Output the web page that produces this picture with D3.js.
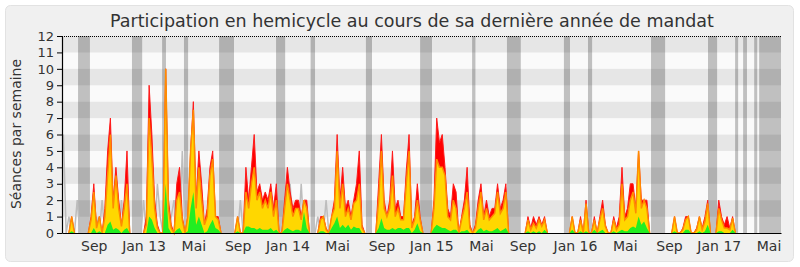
<!DOCTYPE html>
<html>
<head>
<meta charset="utf-8">
<script src="https://cdn.jsdelivr.net/npm/d3@7"></script>
<style>
  body { margin: 0; background: #fff; }
  text { font-family: "DejaVu Sans", Verdana, sans-serif; fill: #333; }
</style>
</head>
<body>
<div id="chart"></div>
<script>
// séances par semaine, une valeur par semaine (260 semaines, juin 2012 -> juin 2017)
const presence = [
  0,0,0,1,0,0,0,0,0,0,
  1,3,0.3,1,0,1.5,5,7,2,4,
  2,0.5,2,5,0,0,0,0,0,0,
  1,9,6,2,0.5,0,0,10,2,0.5,
  0,3,4,1,0,1,5,8,2,5,
  3,0.5,1.5,4,5,1,1,0,0,0,
  0,0,0,1,0,0,4,2,4,6,
  2.5,3,2,2.5,2,3,1.5,3,0,0,
  2,4,2.5,1.5,2,2,1,2,2,0,
  0,0,0,1,1,0.3,0,1,2,6,
  2,4,1.5,2,1,2,3,5,0.5,0,
  0,0,0,0,3,6,2,1,2,5,
  1.5,2,1,1,3.8,6,0.5,1,3,1,
  0,0,0,0,2,7,5.5,6,4,1.5,
  1,3,2.5,0,1,2,4,0.5,0,0.5,
  2,3,1,2,1,1.5,1.5,3,1.5,2,
  3,0,0,0,0,0,0,0,1,0.3,
  1,0.5,1,0.5,1,0,0,0,0,0,
  0,0,0,0,1,0,0,1,0,2,
  0,0,1,0,1,2,0.5,0,0,1,
  0.3,1,4,1,1.5,3,3,1.5,5,2,
  2,2,0,0,0,0,0,0,0,0,
  0,1,0,0,0.3,1,1,0,0,0.3,
  1,0.3,1,2,0,0,0,2,1,0.5,
  1,0.3,1,0,0,0,0,0,0,0,
  0,0,0,0,0,0,0,0,0,0
];
const participation = [
  0,0,0,1,0,0,0,0,0,0,
  0.8,2.5,0.3,1,0,1,3.5,6,1.5,3.5,
  1.5,0.4,1.5,3,0,0,0,0,0,0,
  0.5,7,4.5,1.5,0.3,0,0,10,1.5,0.3,
  0,2,2.5,0.8,0,1,5,7.5,1.5,4,
  2,0.5,1,3.5,4.5,1,0.8,0,0,0,
  0,0,0,1,0,0,2.5,1.5,3,4,
  2,2.5,1.5,2,1.5,2.5,1,2,0,0,
  1.5,3,2,1,1.5,1.5,0.8,2,1.5,0,
  0,0,0,0.8,1,0.2,0,1,1.5,5,
  1.5,3,1,1.5,0.8,1.8,2,3,0.3,0,
  0,0,0,0,2,5,1.5,1,1.5,3.5,
  1,1.5,0.8,0.8,3,5,0.3,0.8,2,0.8,
  0,0,0,0,1.5,4.5,4,4,3.5,1,
  0.8,2,1.5,0,0.8,1.5,2.5,0.3,0,0.3,
  1.5,2.5,0.8,1.5,0.8,1,1.2,2.5,1.2,1.5,
  2.5,0,0,0,0,0,0,0,0.8,0.2,
  0.6,0.3,0.8,0.4,0.8,0,0,0,0,0,
  0,0,0,0,1,0,0,0.8,0,1.8,
  0,0,0.8,0,0.8,1.5,0.4,0,0,0.8,
  0.2,0.5,3,0.8,1,2,2.5,1.2,5,1.5,
  2,1.5,0,0,0,0,0,0,0,0,
  0,1,0,0,0.2,0.8,1,0,0,0.2,
  1,0.2,0.7,1.8,0,0,0,1.5,0.8,0.3,
  0.3,0.2,0.9,0,0,0,0,0,0,0,
  0,0,0,0,0,0,0,0,0,0
];
const questions = [
  0,0,0,0.1,0,0,0,0,0,0,
  0,0.3,0,0.1,0,0,0.5,0.7,0.2,0.3,
  0.2,0,0.2,0.3,0,0,0,0,0,0,
  0,1,0.8,0.3,0,0,0,3,0.3,0,
  0,0.2,0.3,0,0,0.1,1.5,2.5,0.5,1,
  0.5,0,0.1,0.5,0.8,0.3,0.2,0,0,0,
  0,0,0,0.1,0,0,0.4,0.4,0.3,0.3,
  0.2,0.3,0.2,0.2,0.2,0.3,0.1,0.2,0,0,
  0.2,0.3,0.2,0.1,0.2,0.2,0.1,1.3,0.3,0,
  0,0,0,0.1,0.1,0,0,0.3,0.6,1,
  0.3,0.5,0.3,0.5,0.2,0.4,0.3,0.3,0,0,
  0,0,0,0,0.3,0.9,0.3,0.2,0.2,0.3,
  0.2,0.3,0.3,0.2,0.3,0.3,0,0.2,0.6,0.1,
  0,0,0,0,0.3,0.5,0.4,0.3,0.3,0.2,
  0.1,0.2,0.2,0,0.1,0.1,0.2,0,0,0,
  0.2,0.3,0.1,0.2,0.1,0.1,0.2,0.3,0.1,0.2,
  0.3,0,0,0,0,0,0,0,0.1,0,
  0.1,0,0.1,0,0.2,0,0,0,0,0,
  0,0,0,0,0.2,0,0,0.1,0,0.1,
  0,0,0.2,0,0.1,0.2,0,0,0,0.1,
  0,0.1,0.2,0.1,0.1,0.3,0.4,0.3,1,0.5,
  0.7,0.3,0,0,0,0,0,0,0,0,
  0,0.1,0,0,0,0.2,0.2,0,0,0,
  0.1,0,0.1,0.5,0,0,0,0.1,0.1,0,
  0,0,0.2,0,0,0,0,0,0,0,
  0,0,0,0,0,0,0,0,0,0
];
const mediane = [
  6,0,1,0,0,2,0,0,0,0,
  0,0,1,0,2,0,0,0,0,0,
  0,2,0,0,0,0,0,0,0,2,
  0,0,0,0,3,1,0,9,0,1,
  2,0,0,5,0,0,0,0,0,0,
  2,0,0,0,0,0,0,0,0,0,
  0,0,0,0,2,0,0,0,0,0,
  0,0,0,0,0,0,0,0,0,0,
  0,0,3,0,0,0,3,0,0,0,
  0,0,1,0,0,2,0,0,0,0,
  0,0,0,0,0,0,0,0,0,0,
  0,0,0,0,0,0,0,0,0,0,
  0,0,0,0,0,0,0,0,0,0,
  0,0,0,0,0,0,0,0,0,0,
  0,0,0,0,0,0,0,0,0,0,
  0,0,0,0,0,0,0,0,0,0,
  0,0,0,0,0,0,0,0,0,0,
  0,0,0,0,0,0,0,0,0,0,
  0,0,0,0,0,0,0,0,0,0,
  0,0,0,0,0,0,0,0,0,0,
  0,0,0,0,0,0,0,0,0,0,
  0,0,0,0,0,0,0,0,0,0,
  0,0,0,0,0,0,0,0,0,0,
  0,0,0,0,0,0,0,0,0,0,
  0,0,0,0,0,0,0,0,0,0,
  0,0,0,0,0,0,0,0,0,0
];
// vacances parlementaires (début, fin) en semaines
const vacances = [
  [5.3,9.6],[24.8,28.5],[35.7,37.1],[43.6,45.1],[56.3,61.7],
  [76.9,80.2],[89.4,91],[109.4,111.6],[129,133.3],[147.8,149],
  [160.4,165.4],[181,183.2],[189.7,191.2],[212.5,217.6],[233.1,236.4],
  [242.9,244],[245.8,247.2],[249.8,250.9],[251.6,259.5]
];
const moisSemaines = [11,29,47,63,81,99,115,133,151,166,185,203,219,237,255];
const moisLabels = ["Sep","Jan 13","Mai","Sep","Jan 14","Mai","Sep","Jan 15","Mai","Sep","Jan 16","Mai","Sep","Jan 17","Mai"];

const width = 800, height = 267;

const svg = d3.select('#chart').append('svg')
  .attr('width', width)
  .attr('height', height);

// cadre
svg.append('rect')
  .attr('x', 5.5).attr('y', 5.5)
  .attr('width', 788).attr('height', 256)
  .attr('rx', 5)
  .attr('fill', '#f0f0f0')
  .attr('stroke', '#e2e2e2');

const x = d3.scaleLinear().domain([-0.5, presence.length - 0.5]).range([62, 781]);
const y = d3.scaleLinear().domain([0, 12]).range([233, 36]);

// bandes horizontales
const bandes = d3.range(0, 12);
svg.append('g').selectAll('rect')
  .data(bandes)
  .enter()
  .append('rect')
  .attr('x', x(-0.5))
  .attr('width', x(presence.length - 0.5) - x(-0.5))
  .attr('y', d => y(d + 1))
  .attr('height', d => y(d) - y(d + 1))
  .attr('fill', d => d % 2 === 1 ? '#e6e6e6' : '#fafafa');

// vacances
svg.append('g').selectAll('rect')
  .data(vacances)
  .enter()
  .append('rect')
  .attr('x', d => x(d[0]))
  .attr('width', d => x(d[1]) - x(d[0]))
  .attr('y', y(12))
  .attr('height', y(0) - y(12))
  .attr('fill', 'rgba(0,0,0,0.23)');

const area = d3.area()
  .x((d, i) => x(i))
  .y0(y(0))
  .y1(d => y(d));

// ligne du haut seulement là où la série n'est pas nulle (évite un trait sur l'axe)
const topLine = serie => d3.line()
  .defined((d, i) => d > 0 || serie[i - 1] > 0 || serie[i + 1] > 0)
  .x((d, i) => x(i))
  .y(d => y(d));

// médiane
svg.append('path')
  .datum(mediane)
  .attr('d', topLine(mediane))
  .attr('fill', 'none')
  .attr('stroke', '#bdbdbd')
  .attr('stroke-width', 1.5);

svg.append('path')
  .datum(presence)
  .attr('d', area)
  .attr('fill', '#ff0000');
svg.append('path')
  .datum(presence)
  .attr('d', topLine(presence))
  .attr('fill', 'none')
  .attr('stroke', '#ff1a1a')
  .attr('stroke-width', 1);

svg.append('path')
  .datum(participation)
  .attr('d', area)
  .attr('fill', '#ffd700');
svg.append('path')
  .datum(participation)
  .attr('d', topLine(participation))
  .attr('fill', 'none')
  .attr('stroke', '#ff8c00')
  .attr('stroke-width', 1.5);

svg.append('path')
  .datum(questions)
  .attr('d', area)
  .attr('fill', '#22ee22');

// axes
const yAxis = d3.axisLeft(y)
  .tickValues(d3.range(0, 13))
  .tickSize(5)
  .tickSizeOuter(0)
  .tickPadding(3);
const gy = svg.append('g')
  .attr('transform', `translate(${x(-0.5)},0)`)
  .call(yAxis);
gy.selectAll('text').style('font-size', '13px').attr('fill', '#333');

const xAxis = d3.axisBottom(x)
  .tickValues(moisSemaines)
  .tickFormat((d, i) => moisLabels[i])
  .tickSize(0)
  .tickSizeOuter(0)
  .tickPadding(8);
const gx = svg.append('g')
  .attr('transform', `translate(0,${y(0)})`)
  .call(xAxis);
gx.selectAll('text').style('font-size', '14px').attr('fill', '#333');

svg.selectAll('.domain').attr('stroke', '#000').attr('stroke-width', 1.2);

// ligne pointillée en haut
svg.append('line')
  .attr('x1', x(-0.5)).attr('x2', x(presence.length - 0.5))
  .attr('y1', y(12) + 0.5).attr('y2', y(12) + 0.5)
  .attr('stroke', '#000')
  .attr('stroke-dasharray', '1,1');

// titres
svg.append('text')
  .attr('x', 412)
  .attr('y', 27)
  .attr('text-anchor', 'middle')
  .style('font-size', '17.5px')
  .text('Participation en hemicycle au cours de sa dernière année de mandat');

svg.append('text')
  .attr('transform', 'translate(21,134) rotate(-90)')
  .attr('text-anchor', 'middle')
  .style('font-size', '14px')
  .text('Séances par semaine');
</script>
</body>
</html>
